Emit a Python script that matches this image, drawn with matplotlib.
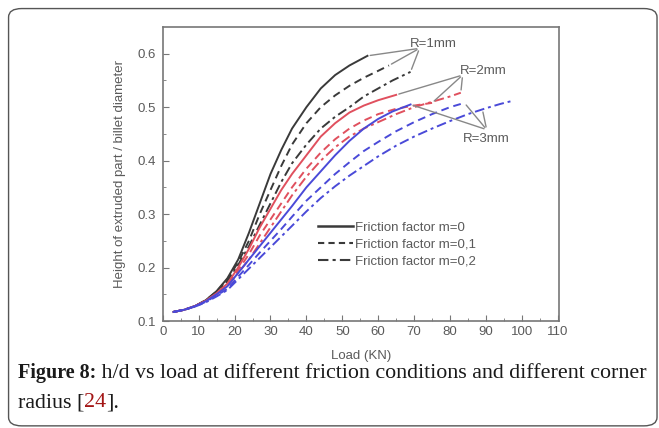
import matplotlib
matplotlib.use('Agg')
import matplotlib.pyplot as plt
from matplotlib.patches import FancyBboxPatch

# Load (KN) and h/d, one pair of lists per curve
x_r1_m0 = [3, 6, 9, 12, 15, 18, 21, 24, 27, 30, 33, 36, 40, 44, 48, 52, 57]
y_r1_m0 = [0.117, 0.121, 0.128, 0.139, 0.156, 0.18, 0.215, 0.265, 0.32, 0.375, 0.42,
           0.46, 0.50, 0.535, 0.56, 0.578, 0.596]
x_r1_m1 = [3, 6, 9, 12, 15, 18, 21, 24, 27, 30, 33, 36, 40, 44, 48, 52, 56, 60, 63]
y_r1_m1 = [0.117, 0.121, 0.128, 0.139, 0.155, 0.178, 0.21, 0.25, 0.30, 0.345, 0.39,
           0.43, 0.47, 0.50, 0.522, 0.54, 0.555, 0.568, 0.578]
x_r1_m2 = [3, 6, 9, 12, 15, 18, 21, 24, 27, 30, 33, 36, 40, 44, 48, 52, 56, 60, 64, 69]
y_r1_m2 = [0.117, 0.121, 0.128, 0.138, 0.154, 0.175, 0.205, 0.24, 0.28, 0.32, 0.36,
           0.395, 0.43, 0.46, 0.482, 0.50, 0.52, 0.535, 0.55, 0.566]

x_r2_m0 = [3, 6, 9, 12, 15, 18, 21, 24, 27, 30, 33, 36, 40, 44, 48, 52, 56, 60, 65]
y_r2_m0 = [0.117, 0.121, 0.128, 0.138, 0.152, 0.17, 0.20, 0.235, 0.275, 0.31, 0.345,
           0.375, 0.41, 0.445, 0.47, 0.49, 0.503, 0.513, 0.523]
x_r2_m1 = [3, 6, 9, 12, 15, 18, 21, 24, 27, 30, 33, 36, 40, 44, 48, 52, 56, 60, 65,
           70, 75]
y_r2_m1 = [0.117, 0.121, 0.128, 0.138, 0.151, 0.168, 0.195, 0.225, 0.26, 0.29, 0.32,
           0.35, 0.385, 0.415, 0.44, 0.46, 0.475, 0.487, 0.497, 0.503, 0.508]
x_r2_m2 = [3, 6, 9, 12, 15, 18, 21, 24, 27, 30, 33, 36, 40, 44, 48, 52, 56, 60, 65,
           70, 75, 80, 83]
y_r2_m2 = [0.117, 0.121, 0.128, 0.137, 0.15, 0.165, 0.19, 0.215, 0.245, 0.275, 0.305,
           0.335, 0.37, 0.40, 0.425, 0.445, 0.46, 0.472, 0.487, 0.50, 0.51, 0.52, 0.527]

x_r3_m0 = [3, 6, 9, 12, 15, 18, 21, 24, 27, 30, 33, 36, 40, 44, 48, 52, 56, 60, 64, 69]
y_r3_m0 = [0.117, 0.121, 0.128, 0.137, 0.15, 0.165, 0.19, 0.215, 0.24, 0.265, 0.29,
           0.315, 0.35, 0.38, 0.41, 0.437, 0.46, 0.478, 0.492, 0.505]
x_r3_m1 = [3, 6, 9, 12, 15, 18, 21, 24, 27, 30, 33, 36, 40, 44, 48, 52, 56, 60, 65,
           70, 75, 80, 84]
y_r3_m1 = [0.117, 0.121, 0.127, 0.136, 0.148, 0.16, 0.183, 0.205, 0.228, 0.25, 0.272,
           0.295, 0.325, 0.35, 0.375, 0.397, 0.418, 0.435, 0.455, 0.472, 0.487, 0.50,
           0.508]
x_r3_m2 = [3, 6, 9, 12, 15, 18, 21, 24, 27, 30, 33, 36, 40, 44, 48, 52, 56, 60, 65,
           70, 75, 80, 85, 90, 94, 97.5]
y_r3_m2 = [0.117, 0.121, 0.127, 0.135, 0.146, 0.158, 0.178, 0.198, 0.218, 0.238,
           0.258, 0.278, 0.305, 0.33, 0.352, 0.372, 0.39, 0.408, 0.428, 0.445, 0.46,
           0.474, 0.487, 0.498, 0.506, 0.512]

legend_labels = ['Friction factor m=0', 'Friction factor m=0,1', 'Friction factor m=0,2']
x_ticks = [0, 10, 20, 30, 40, 50, 60, 70, 80, 90, 100, 110]
y_ticks = [0.1, 0.2, 0.3, 0.4, 0.5, 0.6]

black = '#3a3a3a'
red = '#e0505e'
blue = '#4a4ad8'
gray = '#5a5a5a'
fs = 9.5

plt.rcParams['font.family'] = ['Liberation Sans', 'DejaVu Sans']

fig = plt.figure(figsize=(6.59, 4.28), dpi=100)
ax = fig.add_axes([0.247, 0.25, 0.601, 0.687])

dash = (0, (4, 2.5))
dashdot = (0, (5, 2, 1.5, 2))

ax.plot(x_r1_m0, y_r1_m0, color=black, lw=1.4, ls='-')
ax.plot(x_r1_m1, y_r1_m1, color=black, lw=1.4, ls=dash)
ax.plot(x_r1_m2, y_r1_m2, color=black, lw=1.4, ls=dashdot)
ax.plot(x_r2_m0, y_r2_m0, color=red, lw=1.4, ls='-')
ax.plot(x_r2_m1, y_r2_m1, color=red, lw=1.4, ls=dash)
ax.plot(x_r2_m2, y_r2_m2, color=red, lw=1.4, ls=dashdot)
ax.plot(x_r3_m0, y_r3_m0, color=blue, lw=1.4, ls='-')
ax.plot(x_r3_m1, y_r3_m1, color=blue, lw=1.4, ls=dash)
ax.plot(x_r3_m2, y_r3_m2, color=blue, lw=1.4, ls=dashdot)

# legend handles (dark gray, no frame)
h0, = ax.plot([], [], color=black, lw=1.8, ls='-')
h1, = ax.plot([], [], color=black, lw=1.5, ls=(0, (3, 2)))
h2, = ax.plot([], [], color=black, lw=1.5, ls=dashdot)
ax.legend([h0, h1, h2], legend_labels, loc='upper left', bbox_to_anchor=(0.363, 0.378),
          frameon=False, fontsize=fs, handlelength=2.6, handletextpad=0.15,
          labelspacing=0.35, labelcolor=gray)

# R annotations with gray leader lines
lead = dict(arrowstyle='-', color='#888888', lw=1.0)
for xe, ye in [(x_r1_m0[-1], y_r1_m0[-1]), (x_r1_m1[-1], y_r1_m1[-1]),
               (x_r1_m2[-1], y_r1_m2[-1])]:
    ax.annotate('', xy=(xe, ye), xytext=(71.5, 0.61), arrowprops=lead)
ax.text(68.8, 0.607, 'R=1mm', fontsize=fs, color=gray, va='bottom', ha='left')
for xe, ye in [(x_r2_m0[-1], y_r2_m0[-1]), (x_r2_m1[-1], y_r2_m1[-1]),
               (x_r2_m2[-1], y_r2_m2[-1])]:
    ax.annotate('', xy=(xe, ye), xytext=(83.5, 0.56), arrowprops=lead)
ax.text(82.7, 0.557, 'R=2mm', fontsize=fs, color=gray, va='bottom', ha='left')
for xe, ye in [(x_r3_m0[-1], y_r3_m0[-1]), (x_r3_m1[-1], y_r3_m1[-1]),
               (89, 0.496)]:
    ax.annotate('', xy=(xe, ye), xytext=(90.2, 0.458), arrowprops=lead)
ax.text(90.2, 0.452, 'R=3mm', fontsize=fs, color=gray, va='top', ha='center')

ax.set_xlim(0, 110.3)
ax.set_ylim(0.1, 0.65)
ax.set_xticks(x_ticks)
ax.set_yticks(y_ticks)
ax.set_yticklabels([str(t) for t in y_ticks])
ax.set_xticks([t + 5 for t in x_ticks[:-1]], minor=True)
ax.set_yticks([t + 0.05 for t in y_ticks[:-1]], minor=True)
ax.tick_params(which='both', direction='in', colors='#777777', labelcolor=gray,
               labelsize=fs)
ax.tick_params(which='major', length=4)
ax.tick_params(which='minor', length=2)
ax.tick_params(axis='y', pad=5)
for s in ax.spines.values():
    s.set_color('#777777')
    s.set_linewidth(1.2)

ax.set_xlabel('Load (KN)', fontsize=fs, color=gray, labelpad=9)
ax.set_ylabel('Height of extruded part / billet diameter', fontsize=fs, color=gray,
              labelpad=8)

# rounded frame around the figure panel
box = FancyBboxPatch((0.013, 0.005), 0.984, 0.975, boxstyle='round,pad=0,rounding_size=0.02',
                     transform=fig.transFigure, fill=False, ec='#555555', lw=1.0)
fig.patches.append(box)

# caption
cap = dict(fontsize=15.8, family=['Liberation Serif', 'DejaVu Serif'], color='#1a1a1a')
t1 = fig.text(0.027, 0.117, 'Figure 8:', fontweight='bold',
              **{**cap, 'fontsize': 14.5})
ax.annotate(' h/d vs load at different friction conditions and different corner',
            xy=(1, 0), xycoords=t1, va='bottom', ha='left', annotation_clip=False, **cap)
t2 = fig.text(0.027, 0.048, 'radius [', **cap)
t3 = ax.annotate('24', xy=(1, 0), xycoords=t2, va='bottom', ha='left',
                 annotation_clip=False, **{**cap, 'color': '#a31515'})
ax.annotate('].', xy=(1, 0), xycoords=t3, va='bottom', ha='left',
            annotation_clip=False, **cap)

fig.savefig('out.png', dpi=100)
